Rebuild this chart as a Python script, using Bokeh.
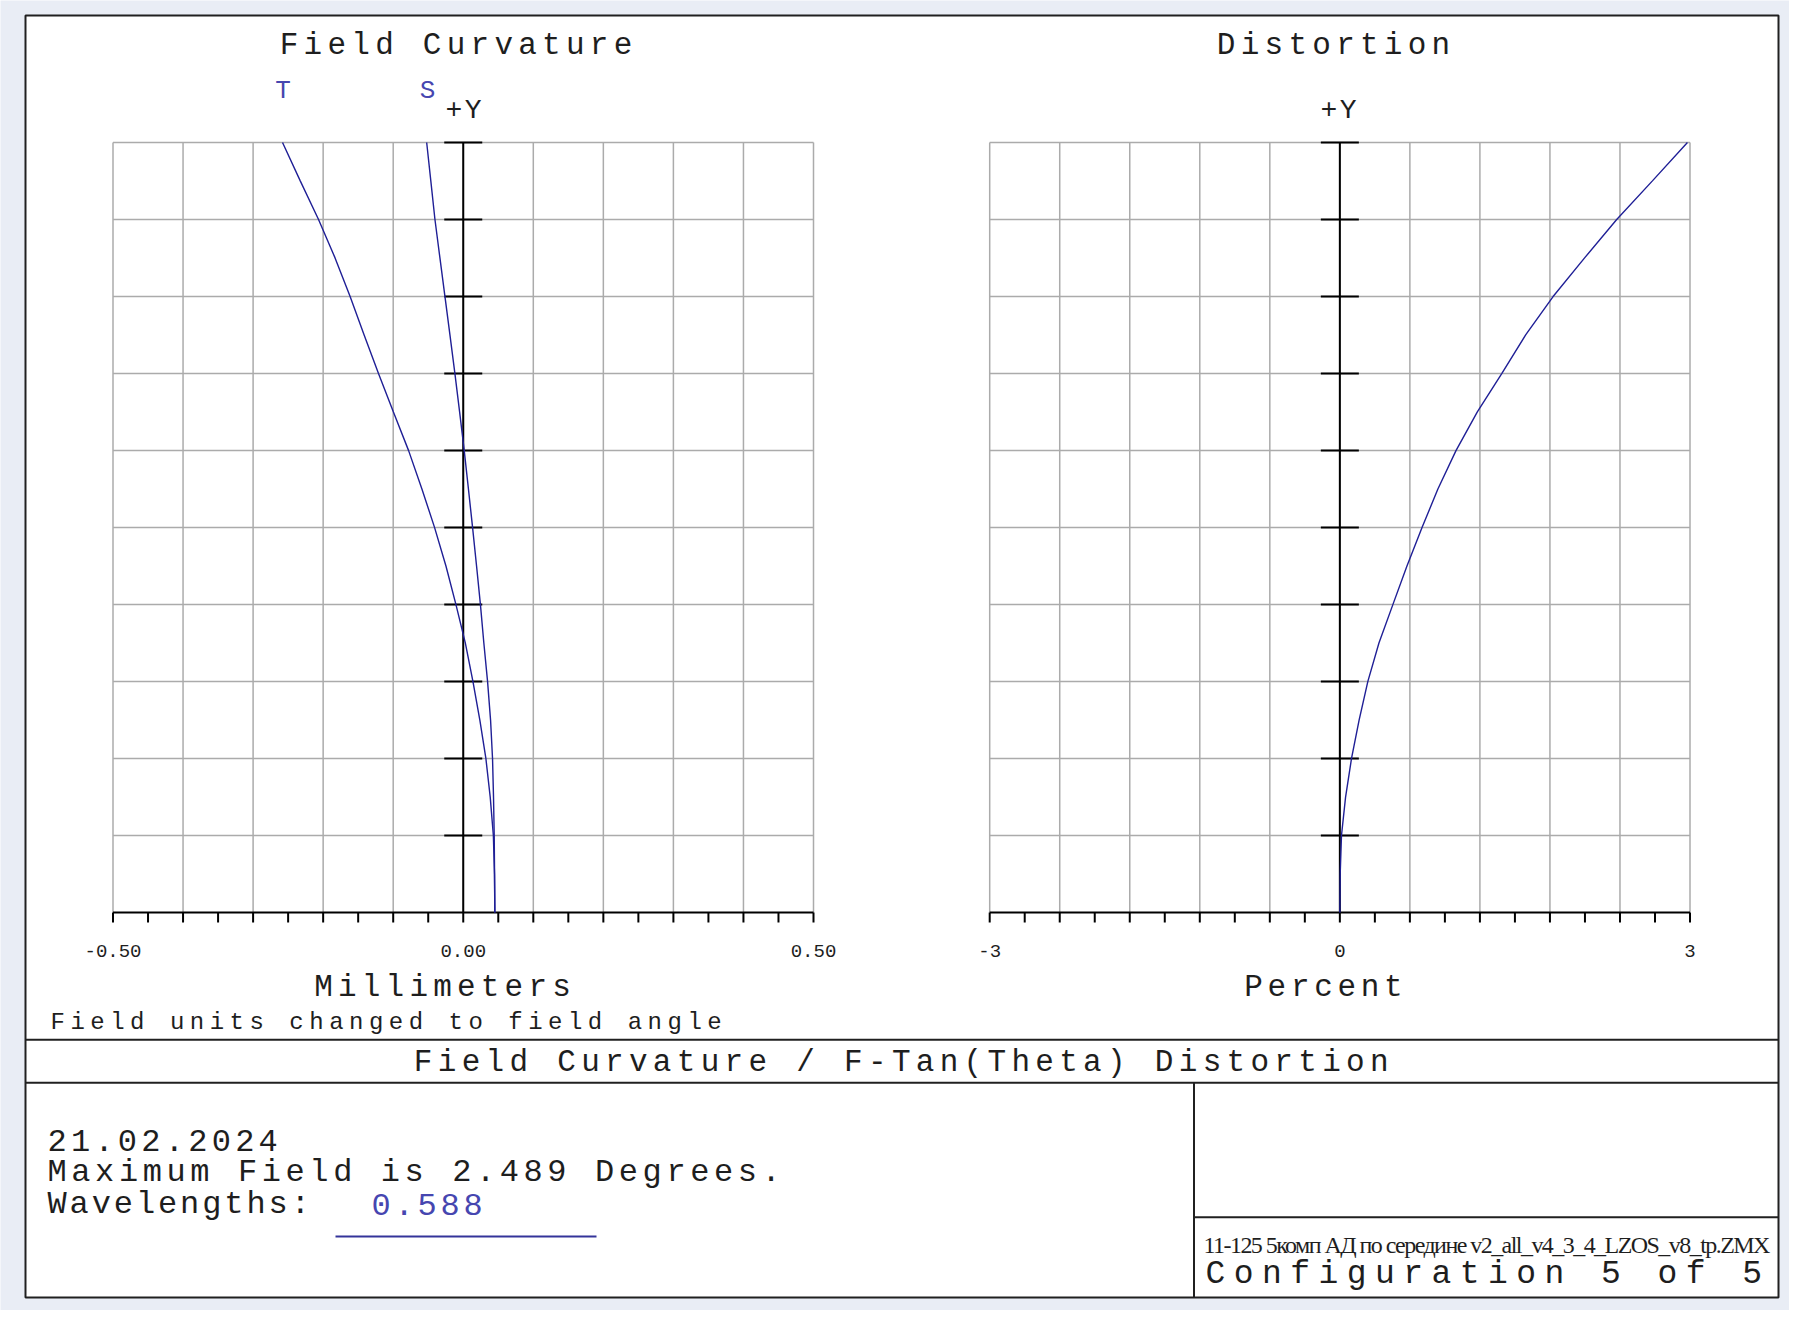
import json
import numpy as np
from bokeh.plotting import figure
from bokeh.document import Document
from bokeh.models import Range1d, CustomJS
from bokeh.core.properties import value
from bokeh.embed import file_html
from bokeh.resources import INLINE

# ---------------- data ----------------
max_field_deg = 2.489
field_deg = [0.000, 0.124, 0.249, 0.373, 0.498, 0.622, 0.747, 0.871, 0.996, 1.120,
             1.245, 1.369, 1.493, 1.618, 1.742, 1.867, 1.991, 2.116, 2.240, 2.365, 2.489]
tan_mm = [0.0451, 0.0446, 0.0430, 0.0385, 0.0323, 0.0237, 0.0138, 0.0030, -0.0105, -0.0247,
          -0.0410, -0.0590, -0.0780, -0.0997, -0.1210, -0.1415, -0.1615, -0.1830, -0.2066, -0.2327, -0.2580]
sag_mm = [0.0451, 0.0447, 0.0442, 0.0432, 0.0418, 0.0390, 0.0347, 0.0294, 0.0245, 0.0190,
          0.0133, 0.0074, 0.0014, -0.0052, -0.0119, -0.0190, -0.0261, -0.0333, -0.0404, -0.0463, -0.0522]
dist_pct = [0.000, 0.003, 0.014, 0.049, 0.100, 0.165, 0.240, 0.335, 0.455, 0.575,
            0.705, 0.840, 0.995, 1.178, 1.387, 1.592, 1.827, 2.097, 2.372, 2.678, 2.978]

fc_tick_vals = [-0.50, 0.00, 0.50]
fc_tick_labels = ["-0.50", "0.00", "0.50"]
dist_tick_vals = [-3, 0, 3]
dist_tick_labels = ["-3", "0", "3"]

# ---------------- layout (pixel coordinates of the reference picture) ----------------
W, H = 1789, 1310
BG = "#e9edf5"
CURVE = "#1f1f96"
BLUE_TXT = "#4646b0"
INK = "#1e1e1e"
GRID = "#ababab"
MONO = value("Liberation Mono")
TXT_DY = -8  # baseline correction

PLOT_TOP, PLOT_BOT = 142.0, 912.0
FC_L, FC_R = 112.5, 813.0
DI_L, DI_R = 989.2, 1689.5


def mapped_range(v0, v1, p0, p1, lo, hi):
    k = (v1 - v0) / (p1 - p0)
    return Range1d(start=v0 + (lo - p0) * k, end=v0 + (hi - p0) * k)


p = figure(width=W, height=H,
           x_range=Range1d(0, W), y_range=Range1d(H, 0),
           x_axis_location=None, y_axis_location=None,
           output_backend="svg", toolbar_location=None, min_border=0)
p.grid.visible = False
p.outline_line_color = None
p.background_fill_color = BG
p.border_fill_color = BG

p.extra_x_ranges = {
    "fc": mapped_range(-0.5, 0.5, FC_L, FC_R, 0, W),
    "dist": mapped_range(-3.0, 3.0, DI_L, DI_R, 0, W),
}
p.extra_y_ranges = {
    "fy": mapped_range(0.0, max_field_deg, PLOT_BOT, PLOT_TOP, H, 0),
}

# outer frame and dividers
p.quad(left=25, right=1778, top=15, bottom=1297, fill_color="white",
       line_color="#202020", line_width=2)
p.segment(x0=[25, 25, 1193.5, 1193.5], y0=[1039.3, 1082.3, 1082.3, 1216.7],
          x1=[1778, 1778, 1193.5, 1778], y1=[1039.3, 1082.3, 1297, 1216.7],
          line_color="#202020", line_width=2)

px_per_deg = (PLOT_BOT - PLOT_TOP) / max_field_deg
rows = np.linspace(0, max_field_deg, 11)


def draw_panel(xname, xmin, xmax, px_left, px_right, curves):
    px_per_unit = (px_right - px_left) / (xmax - xmin)
    cols = np.linspace(xmin, xmax, 11)
    p.segment(x0=cols, y0=[0] * 11, x1=cols, y1=[max_field_deg] * 11,
              x_range_name=xname, y_range_name="fy", line_color=GRID, line_width=1.5)
    p.segment(x0=[xmin] * 10, y0=rows[1:], x1=[xmax] * 10, y1=rows[1:],
              x_range_name=xname, y_range_name="fy", line_color=GRID, line_width=1.5)
    p.segment(x0=[xmin], y0=[0], x1=[xmax], y1=[0], x_range_name=xname,
              y_range_name="fy", line_color="black", line_width=2)
    minor = np.linspace(xmin, xmax, 21)
    tlen = 10 / px_per_deg
    p.segment(x0=minor, y0=[0] * 21, x1=minor, y1=[-tlen] * 21, x_range_name=xname,
              y_range_name="fy", line_color="black", line_width=2)
    p.segment(x0=[0], y0=[0], x1=[0], y1=[max_field_deg], x_range_name=xname,
              y_range_name="fy", line_color="black", line_width=2)
    half = 19 / px_per_unit
    p.segment(x0=[-half] * 10, y0=rows[1:], x1=[half] * 10, y1=rows[1:],
              x_range_name=xname, y_range_name="fy", line_color="black", line_width=2)
    for xs in curves:
        p.line(xs, field_deg, x_range_name=xname, y_range_name="fy",
               line_color=CURVE, line_width=1.4)


draw_panel("fc", -0.5, 0.5, FC_L, FC_R, [tan_mm, sag_mm])
draw_panel("dist", -3.0, 3.0, DI_L, DI_R, [dist_pct])

p.text(x=fc_tick_vals, y=[958 + TXT_DY] * 3, text=fc_tick_labels, x_range_name="fc",
       text_font=MONO, text_font_size="19px", text_align="center",
       text_baseline="alphabetic", text_color=INK)
p.text(x=dist_tick_vals, y=[958 + TXT_DY] * 3, text=dist_tick_labels, x_range_name="dist",
       text_font=MONO, text_font_size="19px", text_align="center",
       text_baseline="alphabetic", text_color=INK)

spacing = {}  # text -> [letter spacing px, anchor mode]


def label(x, y, s, size, align="center", color=INK, font=MONO, ls=0.0):
    p.text(x=[x], y=[y + TXT_DY], text=[s], text_font=font, text_font_size=f"{size}px",
           text_align=align, text_baseline="alphabetic", text_color=color)
    if ls:
        spacing[s] = [ls, "c" if align == "center" else "l"]


label(455.5, 53, "Field Curvature", 31, ls=5.25)
label(1333, 53, "Distortion", 31, ls=5.25)
label(282.5, 98, "T", 26, color=BLUE_TXT)
label(427, 98, "S", 26, color=BLUE_TXT)
label(463, 118, "+Y", 28, ls=2.5)
label(1338, 118, "+Y", 28, ls=2.5)
label(442, 995, "Millimeters", 31, ls=5.2)
label(1323, 995, "Percent", 31, ls=4.7)
label(50, 1030, "Field units changed to field angle", 24, align="left", ls=5.5)
label(900.7, 1070, "Field Curvature / F-Tan(Theta) Distortion", 31, ls=5.3)
label(47, 1148, "21.02.2024", 32, align="left", ls=4.25)
label(47, 1180, "Maximum Field is 2.489 Degrees.", 32, align="left", ls=4.6)
label(47, 1212, "Wavelengths:", 32, align="left", ls=2.9)
label(371, 1212, "0.588", 32, align="left", color=BLUE_TXT, ls=3.8)
p.segment(x0=[335], y0=[1236], x1=[596], y1=[1236], line_color="#34349a", line_width=2)
label(1203, 1252, "11-125 5комп АД по середине v2_all_v4_3_4_LZOS_v8_tp.ZMX", 24,
      align="left", font=value("Liberation Serif"), ls=-1.55)
label(1205, 1282, "Configuration 5 of 5", 33, align="left", ls=8.45)

# widen the monospace texts the way the original (stretched Courier) does
js = """
const cfg = %s;
function collect(root, out) {
  root.querySelectorAll('text').forEach(t => out.push(t));
  root.querySelectorAll('*').forEach(el => { if (el.shadowRoot) collect(el.shadowRoot, out); });
}
function apply() {
  const out = [];
  collect(document, out);
  for (const t of out) {
    if (t.getAttribute('data-ls-done')) continue;
    const c = cfg[t.textContent];
    if (!c) continue;
    let b0;
    try { b0 = t.getBBox(); } catch (e) { continue; }
    if (!b0 || b0.width === 0) continue;
    t.style.letterSpacing = c[0] + 'px';
    const b1 = t.getBBox();
    let dx;
    if (c[1] === 'c') dx = (b0.x + b0.width / 2) - (b1.x + (b1.width - c[0]) / 2);
    else dx = b0.x - b1.x;
    if (Math.abs(dx) > 0.01) {
      const tr = t.getAttribute('transform') || '';
      t.setAttribute('transform', (tr + ' translate(' + dx + ',0)').trim());
    }
    t.setAttribute('data-ls-done', '1');
  }
}
apply();
setInterval(apply, 100);
""" % json.dumps(spacing, ensure_ascii=False)

doc = Document()
doc.add_root(p)
doc.js_on_event("document_ready", CustomJS(code=js))

open("out.html", "w").write(file_html(p, INLINE))
